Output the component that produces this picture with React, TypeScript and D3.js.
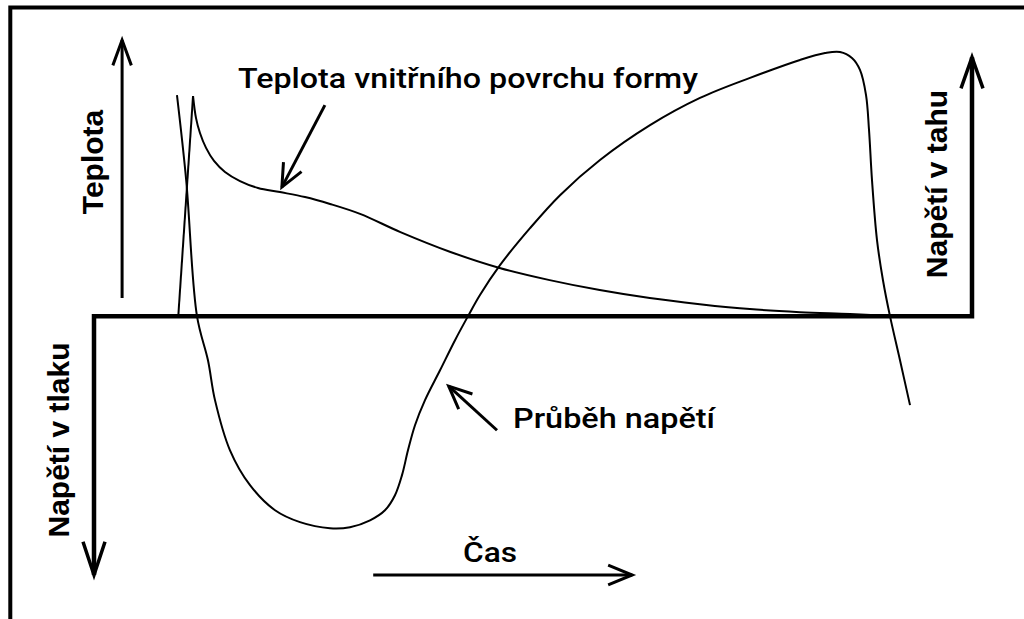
import React from 'react';
import * as d3 from 'd3';

type P = [number, number];

// time (0..100) vs temperature (0..100)
const tempRise: P[] = [[9.6, 0], [11.28, 79.7]];
const tempDecay: P[] = [
  [11.28, 79.7], [11.62, 71.7], [12.07, 66.3], [12.76, 60.9], [13.67, 56.2], [14.92, 52.2],
  [16.63, 48.9], [18.68, 46.4], [21.18, 44.9], [24.03, 43.1], [26.88, 40.6], [30.3, 37.0],
  [34.9, 30.4], [40.6, 23.2], [46.2, 17.4], [51.9, 13.0], [57.6, 9.4], [63.3, 6.5],
  [69.0, 4.3], [74.7, 2.5], [80.4, 1.4], [86.1, 0.7], [90.7, 0],
];
// time vs stress (-100 compression .. 100 tension)
const stress: P[] = [
  [9.45, 83.7], [10.5, 51.5], [11.73, 0], [12.98, -16.7], [13.78, -31.8], [15.49, -50.8],
  [17.77, -64.0], [20.62, -73.5], [23.46, -78.0], [26.88, -80.3], [29.16, -79.9],
  [31.44, -77.3], [33.14, -73.5], [34.28, -67.8], [35.08, -60.2], [35.76, -50.8],
  [36.56, -41.3], [37.7, -31.8], [39.41, -20.5], [41.12, -9.1], [42.6, 0], [43.96, 8.0],
  [46.24, 19.3], [49.66, 33.3], [53.08, 45.8], [57.63, 59.1], [63.33, 72.3], [69.02, 82.6],
  [74.72, 90.2], [80.41, 97.0], [83.26, 99.6], [84.97, 100], [86.33, 97.7], [87.24, 93.2],
  [87.93, 83.7], [88.27, 70.5], [88.61, 51.5], [89.18, 28.8], [89.86, 13.6], [90.66, 0],
  [91.8, -16.7], [92.94, -33.7],
];

const labelTemp = 'Teplota';
const labelTension = 'Napětí v tahu';
const labelCompression = 'Napětí v tlaku';
const labelTime = 'Čas';
const labelTempCurve = 'Teplota vnitřního povrchu formy';
const labelStressCurve = 'Průběh napětí';

// pointer annotations: [from, tip]
const tempPointer: P[] = [[26.3, 76.4], [21.4, 46.7]];
const stressPointer: P[] = [[45.9, -43.2], [40.4, -26.5]];

function head(x1: number, y1: number, x2: number, y2: number, len: number, ang: number) {
  const a = Math.atan2(y2 - y1, x2 - x1);
  const p1 = [x2 - len * Math.cos(a - ang), y2 - len * Math.sin(a - ang)];
  const p2 = [x2 - len * Math.cos(a + ang), y2 - len * Math.sin(a + ang)];
  return `M${p1[0]},${p1[1]}L${x2},${y2}L${p2[0]},${p2[1]}`;
}

export default function App() {
  const W = 1024, H = 619;
  const x = d3.scaleLinear().domain([0, 100]).range([94, 972]);
  const yT = d3.scaleLinear().domain([0, 100]).range([316, 40]);
  const yS = d3.scaleLinear().domain([-98, 100]).range([575, 52]);

  const lineT = d3.line<P>().x(d => x(d[0])).y(d => yT(d[1]));
  const decayT = d3.line<P>().x(d => x(d[0])).y(d => yT(d[1])).curve(d3.curveCatmullRom.alpha(0.5));
  const lineS = d3.line<P>().x(d => x(d[0])).y(d => yS(d[1])).curve(d3.curveCatmullRom.alpha(0.5));

  const x0 = x(0), x1 = x(100), y0 = yS(0);
  const tx = x(3.2);
  const tTop = yT(100), tBot = yT(6.5);
  const upTip = yS(98), downTip = yS(-98);
  const casA = x(31.8), casB = x(61.3);

  const tp = tempPointer.map(d => [x(d[0]), yT(d[1])]);
  const sp = stressPointer.map(d => [x(d[0]), yS(d[1])]);

  const rot = '"Liberation Sans", Arial, sans-serif';
  const din = 'Roboto, "Noto Sans", sans-serif';

  return (
    <svg width={W} height={H} style={{ position: 'absolute', left: 0, top: 0, background: '#fff' }}>
      <rect width={W} height={H} fill="#fff" />
      {/* frame */}
      <path d={`M10.3,${H}L10.3,7.5L${W},7.5`} fill="none" stroke="#000" strokeWidth={4} />
      {/* main axes */}
      <path d={`M${x0},${downTip}L${x0},${y0}L${x1},${y0}L${x1},${upTip}`} fill="none" stroke="#000" strokeWidth={4.5} strokeLinejoin="miter" />
      <path d={head(x0, y0, x0, downTip, 35, 0.32)} fill="none" stroke="#000" strokeWidth={3.5} />
      <path d={head(x1, y0, x1, upTip, 33, 0.34)} fill="none" stroke="#000" strokeWidth={3.5} />
      {/* temperature axis arrow */}
      <path d={`M${tx},${tBot}L${tx},${tTop}`} stroke="#000" strokeWidth={3} />
      <path d={head(tx, tBot, tx, tTop, 27, 0.35)} fill="none" stroke="#000" strokeWidth={3} />
      {/* time arrow */}
      <path d={`M${casA},${downTip}L${casB},${downTip}`} stroke="#000" strokeWidth={3} />
      <path d={head(casA, downTip, casB, downTip, 26, 0.39)} fill="none" stroke="#000" strokeWidth={3} />

      {/* curves */}
      <path d={lineT(tempRise) || ''} fill="none" stroke="#000" strokeWidth={2} />
      <path d={decayT(tempDecay) || ''} fill="none" stroke="#000" strokeWidth={2} />
      <path d={lineS(stress) || ''} fill="none" stroke="#000" strokeWidth={2} />

      {/* pointers */}
      <path d={`M${tp[0][0]},${tp[0][1]}L${tp[1][0]},${tp[1][1]}`} stroke="#000" strokeWidth={3} />
      <path d={head(tp[0][0], tp[0][1], tp[1][0], tp[1][1], 25, 0.42)} fill="none" stroke="#000" strokeWidth={3} />
      <path d={`M${sp[0][0]},${sp[0][1]}L${sp[1][0]},${sp[1][1]}`} stroke="#000" strokeWidth={3} />
      <path d={head(sp[0][0], sp[0][1], sp[1][0], sp[1][1], 25, 0.42)} fill="none" stroke="#000" strokeWidth={3} />

      {/* rotated labels */}
      <text transform="translate(103,162) rotate(-90)" textAnchor="middle" fontFamily={rot} fontWeight="bold" fontSize={30}>{labelTemp}</text>
      <text transform="translate(947,184) rotate(-90)" textAnchor="middle" fontFamily={rot} fontWeight="bold" fontSize={30}>{labelTension}</text>
      <text transform="translate(69,440) rotate(-90)" textAnchor="middle" fontFamily={rot} fontWeight="bold" fontSize={30}>{labelCompression}</text>

      {/* curve labels */}
      <text x={238} y={88} fontFamily={din} fontWeight={500} fontSize={28} textLength={460} lengthAdjust="spacingAndGlyphs">{labelTempCurve}</text>
      <text x={513} y={428} fontFamily={din} fontWeight={500} fontSize={28} textLength={202} lengthAdjust="spacingAndGlyphs">{labelStressCurve}</text>
      <text x={463} y={562} fontFamily={din} fontWeight={500} fontSize={28} textLength={54} lengthAdjust="spacingAndGlyphs">{labelTime}</text>
    </svg>
  );
}
